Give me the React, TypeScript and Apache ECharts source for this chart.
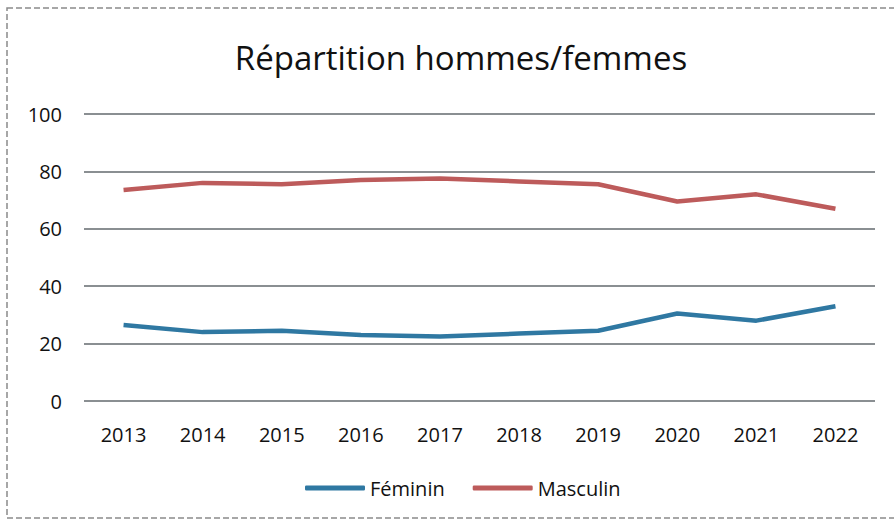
import React, { useEffect, useRef } from "react";
import * as echarts from "echarts";

const years = ["2013", "2014", "2015", "2016", "2017", "2018", "2019", "2020", "2021", "2022"];
const feminin = [26.5, 24, 24.5, 23, 22.5, 23.5, 24.5, 30.5, 28, 33];
const masculin = [73.5, 76, 75.5, 77, 77.5, 76.5, 75.5, 69.5, 72, 67];
const titleText = "Répartition hommes/femmes";

const FONT = "'Open Sans', 'Noto Sans', sans-serif";

export default function App() {
  const ref = useRef<HTMLDivElement>(null);
  useEffect(() => {
    const chart = echarts.init(ref.current!, null, { renderer: "svg" });
    chart.setOption({
      animation: false,
      backgroundColor: "#ffffff",
      title: {
        text: titleText,
        left: 456,
        textAlign: "center",
        top: 36,
        textStyle: { fontFamily: FONT, fontSize: 33, fontWeight: "normal", color: "#111111" },
      },
      legend: {
        bottom: 20,
        left: 300,
        itemWidth: 60,
        itemHeight: 5,
        itemGap: 28,
        icon: "roundRect",
        textStyle: { fontFamily: FONT, fontSize: 20, color: "#111111" },
        data: ["Féminin", "Masculin"],
      },
      grid: { left: 84, right: 19, top: 114, bottom: 122 },
      xAxis: {
        type: "category",
        data: years,
        axisLine: { show: false },
        axisTick: { show: false },
        axisLabel: { fontFamily: FONT, fontSize: 20, color: "#111111", margin: 23 },
      },
      yAxis: {
        type: "value",
        min: 0,
        max: 100,
        interval: 20,
        axisLabel: { fontFamily: FONT, fontSize: 20, color: "#111111", margin: 22 },
        splitLine: { lineStyle: { color: "#8a8f92", width: 2 } },
      },
      series: [
        {
          name: "Féminin",
          type: "line",
          data: feminin,
          symbol: "none",
          lineStyle: { width: 4.5, color: "#2f78a2" },
          itemStyle: { color: "#2f78a2" },
        },
        {
          name: "Masculin",
          type: "line",
          data: masculin,
          symbol: "none",
          lineStyle: { width: 4.5, color: "#bd5b5b" },
          itemStyle: { color: "#bd5b5b" },
        },
      ],
      graphic: [
        {
          type: "rect",
          shape: { x: 7, y: 8, width: 900, height: 510 },
          style: { fill: "none", stroke: "#8a8a8a", lineWidth: 1.5, lineDash: [6, 3] },
          silent: true,
        },
      ],
    });
    return () => chart.dispose();
  }, []);
  return <div ref={ref} style={{ width: 894, height: 523, position: "absolute", left: 0, top: 0 }} />;
}
